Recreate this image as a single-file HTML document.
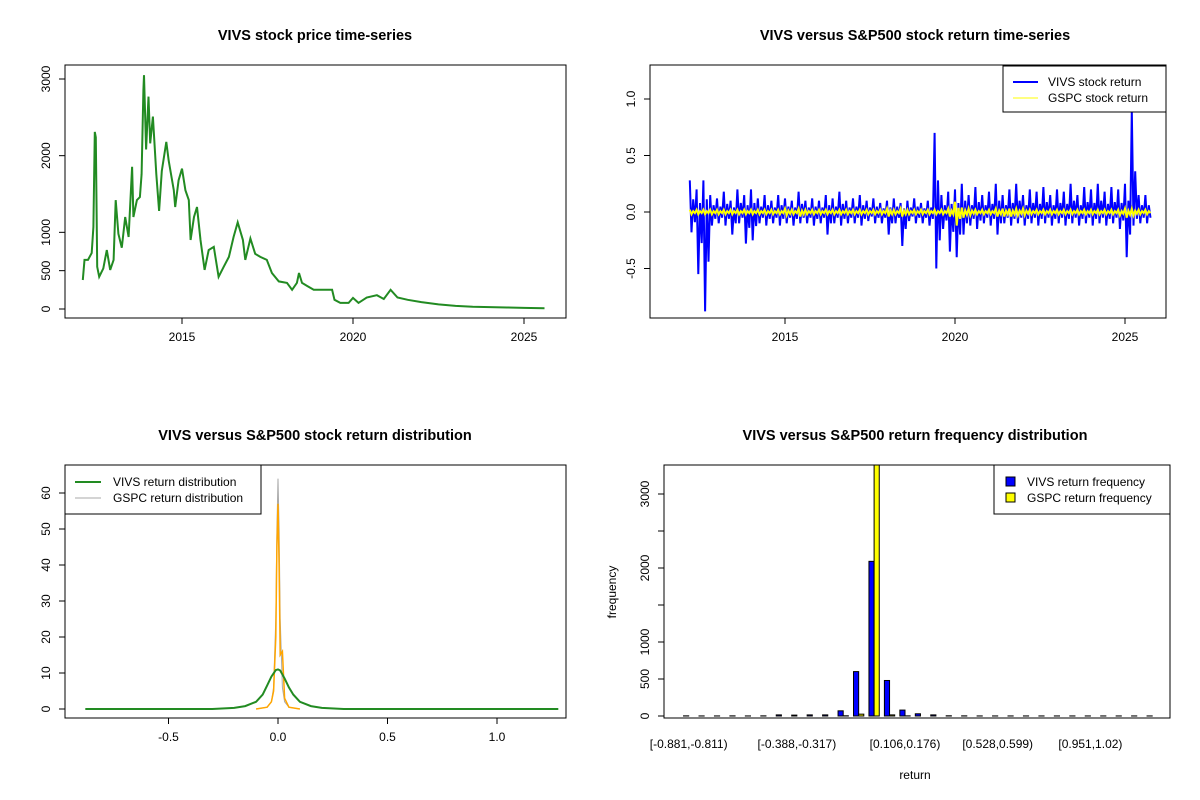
<!DOCTYPE html>
<html><head><meta charset="utf-8"><style>
body{margin:0;background:#fff}
svg{display:block;font-family:"Liberation Sans",Arial,sans-serif}
</style></head><body>
<svg id="c" width="1200" height="800" viewBox="0 0 1200 800"></svg>
<script>
// ---- data ----
const priceYears=[2012.1,2012.15,2012.25,2012.36,2012.41,2012.45,2012.48,2012.52,2012.58,2012.7,2012.8,2012.9,2013.0,2013.06,2013.14,2013.24,2013.34,2013.44,2013.54,2013.58,2013.68,2013.77,2013.82,2013.87,2013.89,2013.95,2014.02,2014.07,2014.15,2014.25,2014.33,2014.41,2014.54,2014.61,2014.76,2014.8,2014.9,2015.0,2015.1,2015.2,2015.25,2015.35,2015.44,2015.54,2015.66,2015.78,2015.93,2016.07,2016.22,2016.37,2016.51,2016.63,2016.78,2016.85,2017.0,2017.14,2017.29,2017.48,2017.63,2017.83,2018.07,2018.22,2018.36,2018.42,2018.51,2018.66,2018.85,2019.14,2019.39,2019.46,2019.63,2019.87,2020.0,2020.16,2020.4,2020.7,2020.9,2021.1,2021.3,2021.6,2022.0,2022.5,2023.0,2023.5,2024.0,2024.5,2025.0,2025.6];
const priceValues=[378,640,640,730,1070,2310,2240,550,420,530,770,510,640,1420,980,800,1200,940,1855,1200,1420,1460,1760,2855,3050,2080,2770,2160,2510,1760,1280,1800,2180,1935,1550,1330,1680,1830,1550,1420,900,1200,1330,900,510,770,810,420,550,680,940,1130,900,640,920,720,680,640,470,360,340,250,340,470,340,300,250,250,250,120,80,80,145,80,150,180,130,250,150,120,90,60,40,30,25,20,15,10];
const retStart=2012.2, retStep=0.2;
const vivsHi=[0.28,0.2,0.28,0.15,0.12,0.18,0.1,0.2,0.15,0.2,0.12,0.15,0.1,0.15,0.12,0.1,0.18,0.1,0.12,0.1,0.15,0.12,0.18,0.1,0.12,0.15,0.1,0.12,0.08,0.1,0.12,0.08,0.1,0.12,0.08,0.1,0.7,0.15,0.18,0.2,0.25,0.15,0.22,0.15,0.18,0.25,0.15,0.2,0.25,0.15,0.2,0.18,0.22,0.15,0.2,0.18,0.25,0.15,0.22,0.2,0.25,0.18,0.22,0.2,0.25,0.9,0.15,0.15];
const vivsLo=[-0.18,-0.55,-0.88,-0.12,-0.1,-0.12,-0.2,-0.1,-0.28,-0.25,-0.1,-0.12,-0.1,-0.12,-0.1,-0.12,-0.1,-0.1,-0.12,-0.1,-0.2,-0.1,-0.12,-0.1,-0.1,-0.12,-0.08,-0.1,-0.1,-0.2,-0.1,-0.3,-0.08,-0.1,-0.1,-0.12,-0.5,-0.15,-0.35,-0.4,-0.2,-0.12,-0.15,-0.1,-0.12,-0.2,-0.1,-0.12,-0.1,-0.12,-0.1,-0.12,-0.1,-0.12,-0.1,-0.12,-0.1,-0.12,-0.1,-0.12,-0.1,-0.12,-0.1,-0.15,-0.4,-0.12,-0.1,-0.1];
const gspcHi=[0.02,0.02,0.02,0.02,0.02,0.02,0.02,0.02,0.02,0.02,0.02,0.02,0.02,0.02,0.03,0.02,0.03,0.02,0.02,0.02,0.02,0.02,0.02,0.02,0.02,0.02,0.02,0.02,0.02,0.03,0.02,0.03,0.02,0.02,0.02,0.02,0.02,0.02,0.03,0.09,0.04,0.03,0.02,0.02,0.02,0.03,0.03,0.03,0.03,0.03,0.02,0.02,0.02,0.02,0.02,0.02,0.02,0.02,0.02,0.02,0.02,0.02,0.02,0.02,0.03,0.03,0.02,0.02];
const gspcLo=[-0.02,-0.02,-0.02,-0.02,-0.02,-0.02,-0.02,-0.02,-0.02,-0.02,-0.02,-0.02,-0.02,-0.02,-0.03,-0.02,-0.04,-0.02,-0.02,-0.02,-0.02,-0.02,-0.02,-0.02,-0.02,-0.02,-0.02,-0.02,-0.02,-0.04,-0.02,-0.04,-0.02,-0.02,-0.02,-0.02,-0.02,-0.02,-0.04,-0.12,-0.05,-0.03,-0.02,-0.02,-0.02,-0.04,-0.04,-0.04,-0.03,-0.03,-0.02,-0.02,-0.02,-0.02,-0.02,-0.02,-0.02,-0.02,-0.02,-0.02,-0.02,-0.02,-0.02,-0.03,-0.05,-0.03,-0.02,-0.02];
const densX=[-0.88,-0.3,-0.2,-0.15,-0.1,-0.07,-0.05,-0.03,-0.01,0,0.01,0.03,0.05,0.07,0.1,0.15,0.2,0.3,1.28];
const vivsDens=[0,0,0.3,0.8,2,4,6.5,9,10.8,11,10.7,8.5,6,4,2,0.8,0.3,0,0];
const gspcDensX=[-0.1,-0.05,-0.03,-0.02,-0.01,-0.005,0,0.005,0.01,0.02,0.03,0.05,0.1];
const gspcDensGrey=[0,0.5,2,6,25,50,64,50,25,6,2,0.5,0];
const gspcDensOrange=[0,0.5,2,5,20,45,57,40,15,16,3,0.5,0];
const histLabels=["[-0.881,-0.811)","[-0.388,-0.317)","[0.106,0.176)","[0.528,0.599)","[0.951,1.02)"];
const histLabelBins=[0,7,14,20,26];
const vivsFreq=[2,1,1,2,1,2,15,12,15,15,70,600,2090,480,80,30,15,3,2,1,1,1,1,1,1,1,1,1,1,1,1];
const gspcFreq=[0,0,0,0,0,0,0,0,0,0,3,25,3600,15,2,0,0,0,0,0,0,0,0,0,0,0,0,0,0,0,0];

// ---- helpers ----
const svg=document.getElementById('c');const NS='http://www.w3.org/2000/svg';
function mk(t,a,p){const e=document.createElementNS(NS,t);for(const k in a)e.setAttribute(k,a[k]);(p||svg).appendChild(e);return e;}
function txt(s,x,y,o){o=o||{};const e=mk('text',{x:x,y:y,'font-size':o.fs||12,'text-anchor':o.anchor||'middle','font-weight':o.fw||'normal',fill:'#000'});if(o.rot)e.setAttribute('transform','rotate(-90 '+x+' '+y+')');e.textContent=s;return e;}
function lin(d0,d1,r0,r1){return v=>r0+(v-d0)*(r1-r0)/(d1-d0);}
function box(x0,y0,x1,y1,name){const r=mk('rect',{x:x0,y:y0,width:x1-x0,height:y1-y0,fill:'none',stroke:'#000','stroke-width':1});}
function xticks(vals,labs,sx,yb){vals.forEach((v,i)=>{const x=sx(v);mk('line',{x1:x,x2:x,y1:yb,y2:yb+6,stroke:'#000'});const t=txt(labs[i],x,yb+23);});}
function yticks(vals,labs,sy,xl){vals.forEach((v,i)=>{const y=sy(v);mk('line',{x1:xl-6,x2:xl,y1:y,y2:y,stroke:'#000'});const t=txt(labs[i],xl-15,y,{rot:1});});}
function poly(xs,ys,sx,sy,col,w,name){const p=mk('polyline',{points:xs.map((x,i)=>sx(x).toFixed(1)+','+sy(ys[i]).toFixed(1)).join(' '),fill:'none',stroke:col,'stroke-width':w});return p;}
function title(s,x){const t=txt(s,x,0,{fs:14.5,fw:'bold'});return t;}

// ---- panel 1: price ----
{const sx=lin(2015,2025,182,524),sy=lin(0,3000,309,79);
const t=title('VIVS stock price time-series',315);t.setAttribute('y',40);
poly(priceYears,priceValues,sx,sy,'#228B22',2,'price-line');
box(65,65,566,318,'price-plot-box');
xticks([2015,2020,2025],['2015','2020','2025'],sx,318);
yticks([0,500,1000,2000,3000],['0','500','1000','2000','3000'],sy,65);}

// ---- panel 2: returns ----
{const sx=lin(2015,2025,785,1125),sy=lin(0,1,212,99);
const t=title('VIVS versus S&P500 stock return time-series',915);t.setAttribute('y',40);
function zig(hi,lo){const xs=[],ys=[];hi.forEach((h,i)=>{const d=retStart+i*retStep;xs.push(d,d+0.05,d+0.1,d+0.15);ys.push(h,lo[i],h*0.4,lo[i]*0.5);});return [xs,ys];}
let [vx,vy]=zig(vivsHi,vivsLo);poly(vx,vy,sx,sy,'#0000FF',2,'vivs-return-line');
let [gx,gy]=zig(gspcHi,gspcLo);poly(gx,gy,sx,sy,'#FFFF00',2,'gspc-return-line');
box(650,65,1166,318,'returns-plot-box');
xticks([2015,2020,2025],['2015','2020','2025'],sx,318);
yticks([-0.5,0,0.5,1],['-0.5','0.0','0.5','1.0'],sy,650);
const g=mk('g',{});
mk('rect',{x:1003,y:66,width:163,height:46,fill:'#fff',stroke:'#000'},g);
mk('line',{x1:1013,x2:1038,y1:82,y2:82,stroke:'#0000FF','stroke-width':2},g);
mk('line',{x1:1013,x2:1038,y1:98,y2:98,stroke:'#FFFF00','stroke-width':1},g);
const a=txt('VIVS stock return',1048,86,{anchor:'start'});g.appendChild(a);
const b=txt('GSPC stock return',1048,102,{anchor:'start'});g.appendChild(b);}

// ---- panel 3: density ----
{const sx=lin(0,1,278,497),sy=lin(0,60,709,493);
const t=title('VIVS versus S&P500 stock return distribution',315);t.setAttribute('y',440);
poly(gspcDensX,gspcDensGrey,sx,sy,'#A9A9A9',1,'gspc-density-grey');
poly(gspcDensX,gspcDensOrange,sx,sy,'#FFA500',1.5,'gspc-density-orange');
poly(densX,vivsDens,sx,sy,'#228B22',2,'vivs-density-line');
box(65,465,566,718,'density-plot-box');
xticks([-0.5,0,0.5,1],['-0.5','0.0','0.5','1.0'],sx,718);
yticks([0,10,20,30,40,50,60],['0','10','20','30','40','50','60'],sy,65);
const g=mk('g',{});
mk('rect',{x:65,y:465,width:196,height:49,fill:'#fff',stroke:'#000'},g);
mk('line',{x1:75,x2:101,y1:482,y2:482,stroke:'#228B22','stroke-width':2},g);
mk('line',{x1:75,x2:101,y1:498,y2:498,stroke:'#A9A9A9','stroke-width':1},g);
g.appendChild(txt('VIVS return distribution',113,486,{anchor:'start'}));
g.appendChild(txt('GSPC return distribution',113,502,{anchor:'start'}));}

// ---- panel 4: histogram ----
{const u=5.15,gc=i=>905+(i-14)*3*u,sy=lin(0,3000,716,494);
const t=title('VIVS versus S&P500 return frequency distribution',915);t.setAttribute('y',440);
const clip=mk('clipPath',{id:'hc'});mk('rect',{x:664,y:465,width:506,height:253},clip);
const bars=mk('g',{'clip-path':'url(#hc)'});
vivsFreq.forEach((v,i)=>{const c=gc(i);const r=mk('rect',{x:c-u,y:sy(v),width:u,height:sy(0)-sy(v),fill:'#0000FF',stroke:'#000','stroke-width':1},bars);});
gspcFreq.forEach((v,i)=>{const c=gc(i);const r=mk('rect',{x:c,y:sy(v),width:u,height:sy(0)-sy(v),fill:'#FFFF00',stroke:'#000','stroke-width':1},bars);});
box(664,465,1170,718,'histogram-plot-box');
yticks([0,500,1000,1500,2000,2500,3000],['0','500','1000','','2000','','3000'],sy,664);
histLabelBins.forEach((b,i)=>{const l=txt(histLabels[i],gc(b),748);});
const xl=txt('return',915,779);
const yl=txt('frequency',616,592,{rot:1});
const g=mk('g',{});
mk('rect',{x:994,y:465,width:176,height:49,fill:'#fff',stroke:'#000'},g);
mk('rect',{x:1006,y:477,width:9,height:9,fill:'#0000FF',stroke:'#000'},g);
mk('rect',{x:1006,y:493,width:9,height:9,fill:'#FFFF00',stroke:'#000'},g);
g.appendChild(txt('VIVS return frequency',1027,486,{anchor:'start'}));
g.appendChild(txt('GSPC return frequency',1027,502,{anchor:'start'}));}
</script>
</body></html>
